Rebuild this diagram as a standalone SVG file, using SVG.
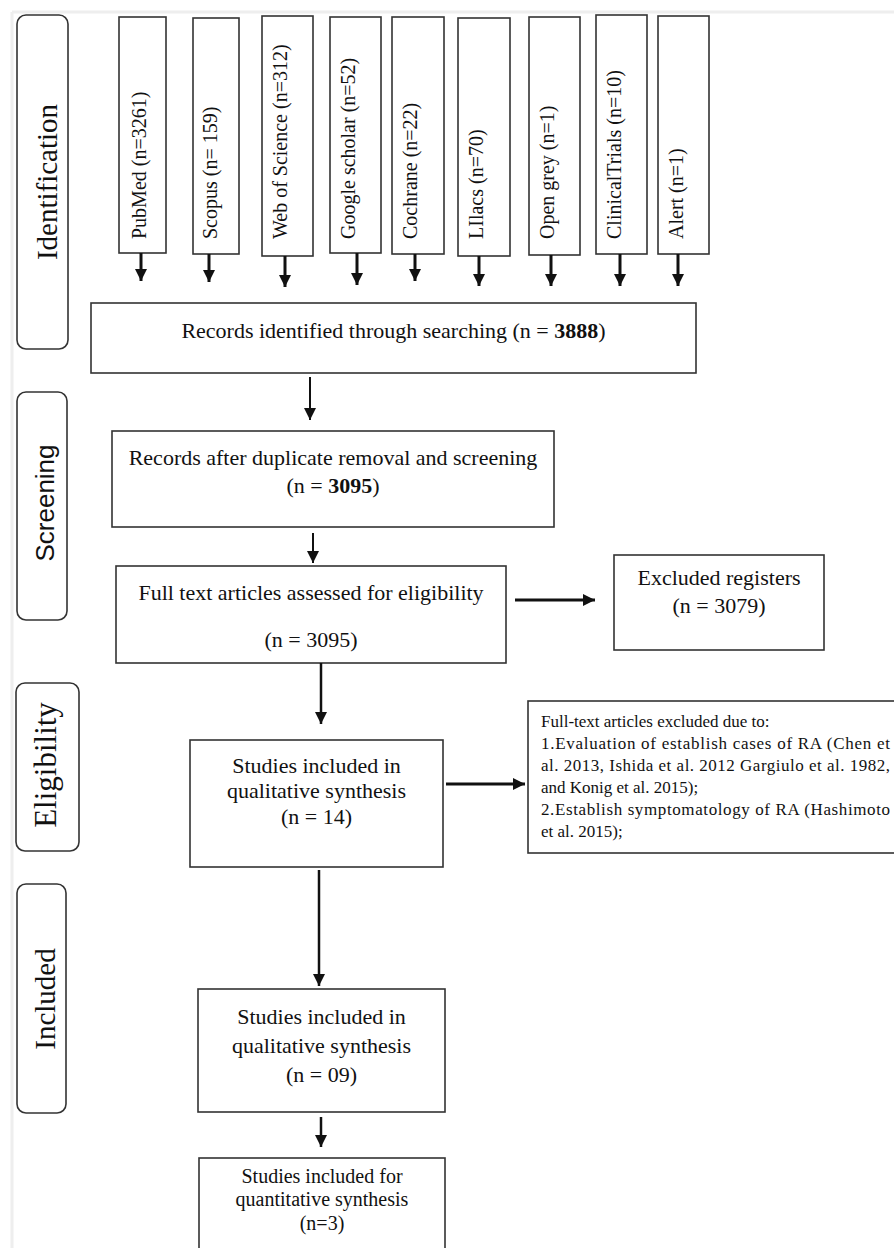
<svg xmlns="http://www.w3.org/2000/svg" width="894" height="1248" viewBox="0 0 894 1248">
<style>
.bx{fill:#fff;stroke:#333;stroke-width:1.6}
.ph{fill:#fff;stroke:#333;stroke-width:1.6}
.t{font-family:"Liberation Serif","Times New Roman",serif;fill:#111}
.s20{font-size:20px}
.s22{font-size:22px}
.s17{font-size:17px}
.c{text-anchor:middle}
.ln{stroke:#111;fill:none}
</style>
<defs>
<marker id="ah" markerUnits="userSpaceOnUse" markerWidth="12" markerHeight="12" refX="12" refY="6" orient="auto" viewBox="0 0 12 12">
<path d="M0,0 L12,6 L0,12 z" fill="#111"/>
</marker>
</defs>
<rect x="0" y="0" width="894" height="1248" fill="#fff"/>
<path d="M12,12 H894 M12,12 V1248" stroke="#eeeeee" stroke-width="3" fill="none"/>

<g id="phase-identification">
<rect class="ph" x="17" y="15" width="51" height="334" rx="9"/>
<text class="t c" font-size="29" transform="translate(57,182) rotate(-90)">Identification</text>
</g>
<g id="phase-screening">
<rect class="ph" x="17" y="392" width="50" height="228" rx="9"/>
<text class="c" font-family="Liberation Sans, Arial, sans-serif" font-size="26" fill="#111" transform="translate(54,503) rotate(-90)">Screening</text>
</g>
<g id="phase-eligibility">
<rect class="ph" x="16" y="683" width="63" height="168" rx="9"/>
<text class="t c" font-size="31" transform="translate(56,765) rotate(-90)">Eligibility</text>
</g>
<g id="phase-included">
<rect class="ph" x="17" y="884" width="49" height="229" rx="9"/>
<text class="t c" font-size="29" transform="translate(55,999) rotate(-90)">Included</text>
</g>

<g id="src-pubmed"><rect class="bx" x="119" y="17" width="47" height="236"/><text class="t s20" transform="translate(146,239) rotate(-90)">PubMed (n=3261)</text></g>
<g id="src-scopus"><rect class="bx" x="193" y="18" width="46" height="236"/><text class="t s20" transform="translate(217,239) rotate(-90)">Scopus (n= 159)</text></g>
<g id="src-wos"><rect class="bx" x="262" y="16" width="51" height="240"/><text class="t s20" transform="translate(287,239) rotate(-90)">Web of Science (n=312)</text></g>
<g id="src-google"><rect class="bx" x="330" y="17" width="51" height="236"/><text class="t s20" transform="translate(355,239) rotate(-90)">Google scholar (n=52)</text></g>
<g id="src-cochrane"><rect class="bx" x="392" y="17" width="52" height="237"/><text class="t s20" transform="translate(417,239) rotate(-90)">Cochrane (n=22)</text></g>
<g id="src-lilacs"><rect class="bx" x="458" y="18" width="52" height="238"/><text class="t s20" transform="translate(483,239) rotate(-90)">LIlacs (n=70)</text></g>
<g id="src-opengrey"><rect class="bx" x="529" y="17" width="51" height="238"/><text class="t s20" transform="translate(554,239) rotate(-90)">Open grey (n=1)</text></g>
<g id="src-clinicaltrials"><rect class="bx" x="596" y="15" width="51" height="239"/><text class="t s20" transform="translate(621,239) rotate(-90)">ClinicalTrials (n=10)</text></g>
<g id="src-alert"><rect class="bx" x="658" y="16" width="51" height="238"/><text class="t s20" transform="translate(683,239) rotate(-90)">Alert (n=1)</text></g>

<g id="records-identified">
<rect class="bx" x="91" y="303" width="605" height="70"/>
<text class="t s22 c" x="393.5" y="338">Records identified through searching (n = <tspan font-weight="bold">3888</tspan>)</text>
</g>
<g id="records-after-dup">
<rect class="bx" x="112" y="431" width="442" height="96"/>
<text class="t s22 c" x="333" y="465">Records after duplicate removal and screening</text>
<text class="t s22 c" x="333" y="493">(n = <tspan font-weight="bold">3095</tspan>)</text>
</g>
<g id="full-text-assessed">
<rect class="bx" x="116" y="566" width="390" height="97"/>
<text class="t s22 c" x="311" y="600">Full text articles assessed for eligibility</text>
<text class="t s22 c" x="311" y="647">(n = 3095)</text>
</g>
<g id="excluded-registers">
<rect class="bx" x="614" y="555" width="210" height="95"/>
<text class="t s22 c" x="719" y="585">Excluded registers</text>
<text class="t s22 c" x="719" y="613">(n = 3079)</text>
</g>
<g id="studies-qualitative-14">
<rect class="bx" x="190" y="740" width="253" height="127"/>
<text class="t s22 c" x="316.5" y="773">Studies included in</text>
<text class="t s22 c" x="316.5" y="798">qualitative synthesis</text>
<text class="t s22 c" x="316.5" y="824">(n = 14)</text>
</g>
<g id="fulltext-excluded">
<rect class="bx" x="528" y="701" width="370" height="152"/>
<text class="t s17" x="541" y="727">Full-text articles excluded due to:</text>
<text class="t s17" x="541" y="749" textLength="349" lengthAdjust="spacing">1.Evaluation of establish cases of RA (Chen et</text>
<text class="t s17" x="541" y="771" textLength="349" lengthAdjust="spacing">al. 2013, Ishida et al. 2012 Gargiulo et al. 1982,</text>
<text class="t s17" x="541" y="793">and Konig et al. 2015);</text>
<text class="t s17" x="541" y="815" textLength="349" lengthAdjust="spacing">2.Establish symptomatology of RA (Hashimoto</text>
<text class="t s17" x="541" y="837">et al. 2015);</text>
</g>
<g id="studies-qualitative-09">
<rect class="bx" x="198" y="989" width="247" height="123"/>
<text class="t s22 c" x="321.5" y="1024">Studies included in</text>
<text class="t s22 c" x="321.5" y="1053">qualitative synthesis</text>
<text class="t s22 c" x="321.5" y="1082">(n = 09)</text>
</g>
<g id="studies-quantitative">
<rect class="bx" x="199" y="1158" width="246" height="100"/>
<text class="t s20 c" x="322" y="1183">Studies included for</text>
<text class="t s20 c" x="322" y="1206">quantitative synthesis</text>
<text class="t s20 c" x="322" y="1230">(n=3)</text>
</g>

<g id="connectors" class="ln" marker-end="url(#ah)">
<line x1="141" y1="253" x2="141" y2="281" stroke-width="3"/>
<line x1="209" y1="254" x2="209" y2="282" stroke-width="3"/>
<line x1="285" y1="256" x2="285" y2="287" stroke-width="3"/>
<line x1="357" y1="253" x2="357" y2="285" stroke-width="3"/>
<line x1="415" y1="254" x2="415" y2="281" stroke-width="3"/>
<line x1="479" y1="256" x2="479" y2="286" stroke-width="3"/>
<line x1="551" y1="255" x2="551" y2="286" stroke-width="3"/>
<line x1="620" y1="254" x2="620" y2="286" stroke-width="3"/>
<line x1="678" y1="254" x2="678" y2="286" stroke-width="3"/>
<line x1="310" y1="377" x2="310" y2="420" stroke-width="2"/>
<line x1="313" y1="533" x2="313" y2="563" stroke-width="2"/>
<line x1="515" y1="600" x2="595" y2="600" stroke-width="3"/>
<line x1="321" y1="663" x2="321" y2="724" stroke-width="2.5"/>
<line x1="446" y1="784" x2="525" y2="784" stroke-width="3"/>
<line x1="319" y1="870" x2="319" y2="986" stroke-width="2.5"/>
<line x1="321" y1="1117" x2="321" y2="1147" stroke-width="2.5"/>
</g>
</svg>
